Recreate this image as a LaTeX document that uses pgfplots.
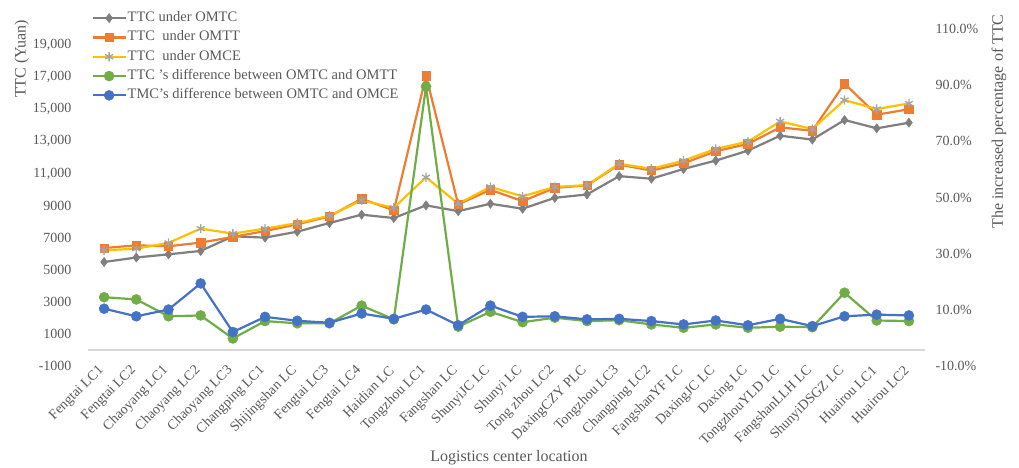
\documentclass[border=0pt]{standalone}
\usepackage{pgfplots}
\usepackage{pgfplotstable}
\usepackage{fontspec}
\setmainfont{Liberation Serif}
\pgfplotsset{compat=1.18}

\definecolor{txtgray}{HTML}{595959}
\definecolor{omtc}{HTML}{7F7F7F}
\definecolor{omtt}{HTML}{ED7D31}
\definecolor{omce}{HTML}{FFC000}
\definecolor{starg}{HTML}{A5A5A5}
\definecolor{dtt}{HTML}{70AD47}
\definecolor{dce}{HTML}{4472C4}
\definecolor{zeroline}{HTML}{D9D9D9}

% Total transport cost (Yuan) per logistics center and the
% increased percentages (%) of the two differences
\pgfplotstableread{
x  omtc  omtt  omce  dtt   dce
0  5480  6350  6210  14.5  10.4
1  5760  6520  6310  13.7  7.7
2  5960  6460  6670  7.7   10.1
3  6170  6690  7560  8.0   19.4
4  7080  7040  7250  -0.2  2.1
5  7000  7410  7560  6.0   7.5
6  7370  7830  7910  5.2   6.1
7  7910  8320  8360  5.2   5.4
8  8430  9420  9320  11.5  8.7
9  8220  8700  8860  6.6   6.8
10 9010  17080 10760 89.5  10.1
11 8650  9070  9110  4.0   4.5
12 9110  9980  10160 9.3   11.5
13 8800  9270  9570  5.6   7.5
14 9480  10100 10160 7.2   7.7
15 9690  10250 10270 6.0   6.6
16 10830 11550 11600 6.3   6.8
17 10670 11180 11290 4.8   6.0
18 11280 11630 11800 3.6   4.8
19 11800 12380 12530 4.8   6.2
20 12420 12840 12980 3.6   4.5
21 13350 13870 14240 4.0   6.8
22 13110 13660 13770 3.8   4.2
23 14330 16600 15570 16.1  7.7
24 13810 14660 15010 6.2   8.3
25 14160 15000 15360 6.0   8.0
}\datatable

\pgfplotsset{
  base/.style={
    width=837bp, height=337bp, scale only axis,
    xmin=-0.5, xmax=25.5,
    clip=false,
    scaled ticks=false,
    axis line style={draw=none},
    major tick length=0pt,
    tick label style={font=\fontsize{14bp}{16bp}\selectfont, text=txtgray},
    label style={font=\fontsize{16bp}{19bp}\selectfont, text=txtgray},
  },
  sOMTC/.style={color=omtc, line width=2.2bp, mark=diamond*, mark size=4.6bp,
    mark options={fill=omtc, draw=omtc, line width=0.5bp}},
  sOMTT/.style={color=omtt, line width=2.2bp, mark=square*, mark size=4.2bp,
    mark options={fill=omtt, draw=omtt, line width=0.5bp}},
  sOMCE/.style={color=omce, line width=2.2bp, mark=asterisk, mark size=4.6bp,
    mark options={draw=starg, line width=1.3bp}},
  sDTT/.style={color=dtt, line width=2.2bp, mark=*, mark size=5bp,
    mark options={fill=dtt, draw=dtt, line width=0.5bp}},
  sDCE/.style={color=dce, line width=2.2bp, mark=*, mark size=5bp,
    mark options={fill=dce, draw=dce, line width=0.5bp}},
}

\begin{document}
\begin{tikzpicture}
% primary axis: total transport cost in Yuan
\begin{axis}[base,
  ymin=-1000, ymax=20000,
  ytick={-1000,1000,...,19000},
  yticklabels={-1000,1000,3000,5000,7000,9000,{11,000},{13,000},{15,000},{17,000},{19,000}},
  yticklabel style={xshift=-13bp},
  xtick={0,...,25},
  xticklabels={Fengtai LC1,Fengtai LC2,Chaoyang LC1,Chaoyang LC2,Chaoyang LC3,
    Changping LC1,Shijingshan LC,Fengtai LC3,Fengtai LC4,Haidian LC,Tongzhou LC1,
    Fangshan LC,ShunyiJC LC,Shunyi LC,Tong zhou LC2,DaxingCZY PLC,Tongzhou LC3,
    Changping LC2,FangshanYF LC,DaxingJC LC,Daxing LC,TongzhouYLD LC,
    FangshanLLH LC,ShunyiDSGZ LC,Huairou LC1,Huairou LC2},
  xticklabel style={rotate=45, anchor=east},
  extra y ticks={0}, extra y tick labels={{}},
  extra y tick style={grid=major},
  major grid style={draw=zeroline, line width=1.3bp},
  xlabel={Logistics center location},
  xlabel style={at={(axis description cs:0.503,-0.273)}, anchor=center},
  ylabel={TTC (Yuan)},
  ylabel style={at={(axis description cs:-0.079,0.911)}, anchor=center},
  legend style={at={(axis description cs:0.004,1.055)}, anchor=north west,
    draw=none, fill=none, inner sep=0pt, row sep=4.3bp,
    font=\fontsize{14.5bp}{17bp}\selectfont, text=txtgray,
    nodes={inner sep=1bp, text height=10bp, text depth=3bp}},
  legend cell align=left,
  legend image code/.code={%
    \draw[mark repeat=2, mark phase=2, #1]
      plot coordinates {(0bp,0bp) (16.5bp,0bp) (33bp,0bp)};},
]
\addplot[sOMTC] table[x=x, y=omtc] {\datatable};
\addlegendentry{TTC under OMTC}
\addplot[sOMTT] table[x=x, y=omtt] {\datatable};
\addlegendentry{TTC\ \ under OMTT}
\addplot[sOMCE] table[x=x, y=omce] {\datatable};
\addlegendentry{TTC\ \ under OMCE}
\addlegendimage{sDTT}
\addlegendentry{TTC 's difference between OMTC and OMTT}
\addlegendimage{sDCE}
\addlegendentry{TMC's difference between OMTC and OMCE}
\end{axis}

% secondary axis: increased percentage
\begin{axis}[base,
  hide x axis,
  axis y line*=right,
  ymin=-10, ymax=110,
  ytick={-10,10,...,110},
  yticklabels={-10.0\%,10.0\%,30.0\%,50.0\%,70.0\%,90.0\%,110.0\%},
  yticklabel style={xshift=7bp},
  ylabel={The increased percentage of TTC},
  ylabel style={at={(axis description cs:1.0884,0.7255)}, anchor=center},
]
\addplot[sDTT] table[x=x, y=dtt] {\datatable};
\addplot[sDCE] table[x=x, y=dce] {\datatable};
\end{axis}

\pgfresetboundingbox
\path[use as bounding box] (-88bp,-102bp) rectangle (931bp,366bp);
\end{tikzpicture}
\end{document}
